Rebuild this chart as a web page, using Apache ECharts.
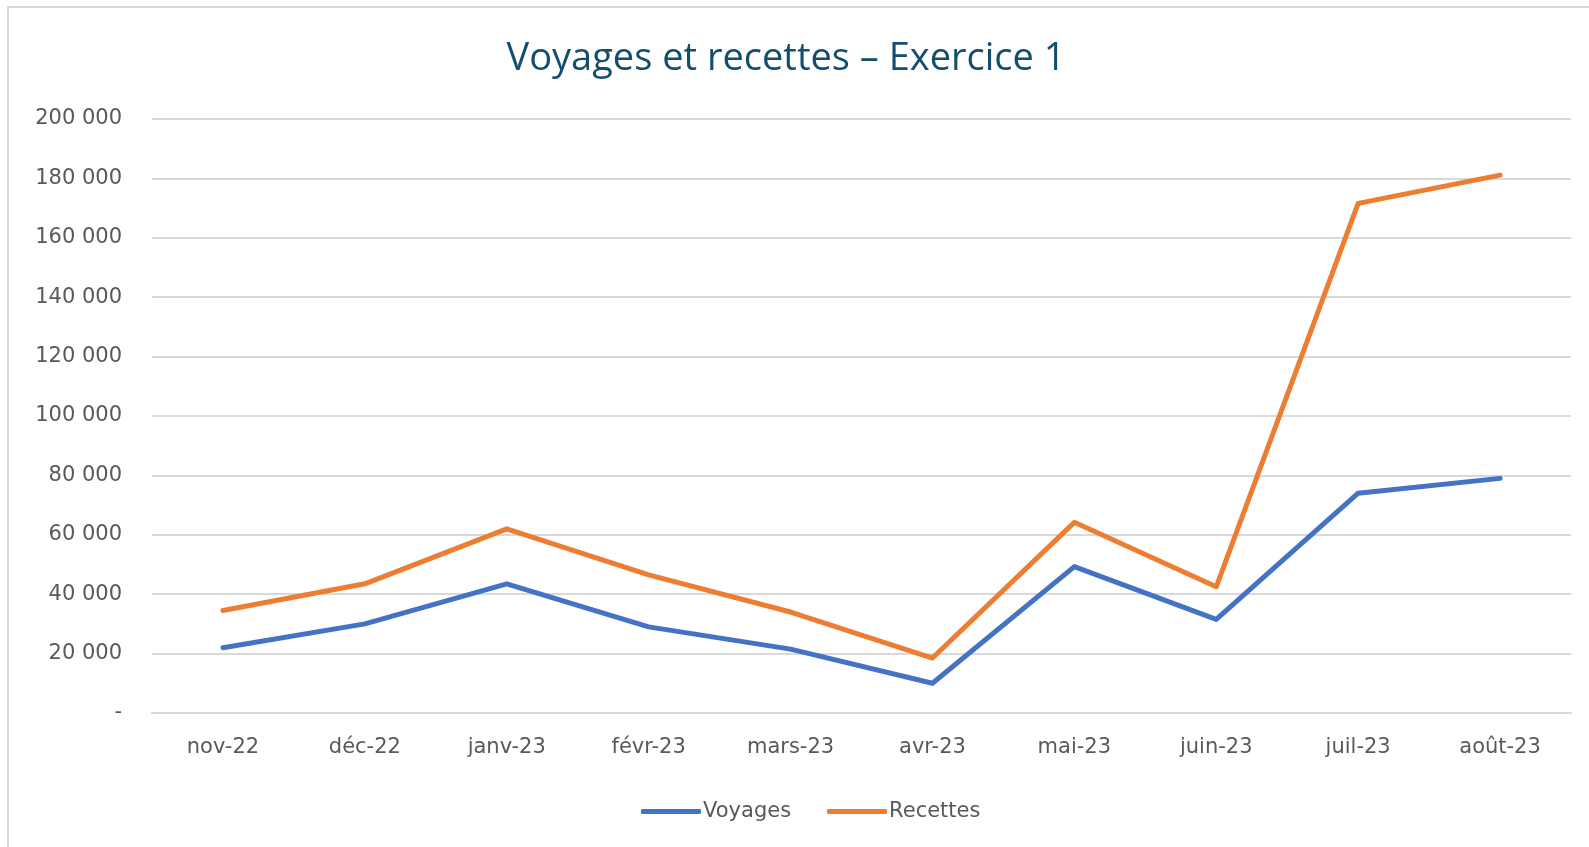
<!DOCTYPE html>
<html>
<head>
<meta charset="utf-8">
<script src="https://cdn.jsdelivr.net/npm/echarts@6/dist/echarts.min.js"></script>
<style>
html,body{margin:0;padding:0;background:#fff;}
#chart{width:1589px;height:847px;}
</style>
</head>
<body>
<div id="chart"></div>
<script>
const categories = ['nov-22','déc-22','janv-23','févr-23','mars-23','avr-23','mai-23','juin-23','juil-23','août-23'];
const voyages  = [22000, 30000, 43500, 29000, 21500, 10000, 49300, 31500, 74000, 79000];
const recettes = [34500, 43500, 62000, 46500, 34000, 18500, 64200, 42500, 171600, 181100];
const yTickValues = [0, 20000, 40000, 60000, 80000, 100000, 120000, 140000, 160000, 180000, 200000];
const yTickLabels = ['-', '20 000', '40 000', '60 000', '80 000', '100 000', '120 000', '140 000', '160 000', '180 000', '200 000'];
const titleText = 'Voyages et recettes – Exercice 1';

const chart = echarts.init(document.getElementById('chart'), null, {renderer:'canvas'});
const font = '"DejaVu Sans", sans-serif';
chart.setOption({
  backgroundColor: '#ffffff',
  animation: false,
  graphic: [{
    type: 'rect', silent: true, z: -1,
    shape: {x: 8, y: 7, width: 1700, height: 1000},
    style: {fill: '#ffffff', stroke: '#d9d9d9', lineWidth: 2}
  }],
  title: {
    text: titleText,
    left: 781, top: 35, textAlign: 'center',
    textStyle: {fontFamily: '"Open Sans", sans-serif', fontSize: 38, fontWeight: 'normal', color: '#134e6f'}
  },
  grid: {left: 152, top: 119, width: 1419, height: 594, containLabel: false},
  legend: {
    left: 636, top: 796,
    itemWidth: 60, itemHeight: 5, itemGap: 36,
    icon: 'roundRect',
    textStyle: {fontFamily: font, fontSize: 21, color: '#595959', padding: [0,0,0,-3]},
    data: ['Voyages', 'Recettes']
  },
  xAxis: {
    type: 'category', data: categories, boundaryGap: true,
    axisLine: {show: true, lineStyle: {color: '#d9d9d9', width: 2}},
    axisTick: {show: false},
    axisLabel: {fontFamily: font, fontSize: 21, color: '#595959', margin: 24, interval: 0}
  },
  yAxis: {
    type: 'value', min: 0, max: 200000, interval: 20000,
    axisLine: {show: false}, axisTick: {show: false},
    splitLine: {lineStyle: {color: '#d9d9d9', width: 2}},
    axisLabel: {
      fontFamily: font, fontSize: 21, color: '#595959', margin: 30,
      formatter: function (v) { const i = yTickValues.indexOf(v); return i >= 0 ? yTickLabels[i] : ''; }
    }
  },
  series: [
    {name: 'Voyages', type: 'line', data: voyages, showSymbol: false, symbol: 'none',
     itemStyle: {color: '#4472c4'}, lineStyle: {color: '#4472c4', width: 5, cap: 'round', join: 'round'}},
    {name: 'Recettes', type: 'line', data: recettes, showSymbol: false, symbol: 'none',
     itemStyle: {color: '#ed7d31'}, lineStyle: {color: '#ed7d31', width: 5, cap: 'round', join: 'round'}}
  ]
});
</script>
</body>
</html>
